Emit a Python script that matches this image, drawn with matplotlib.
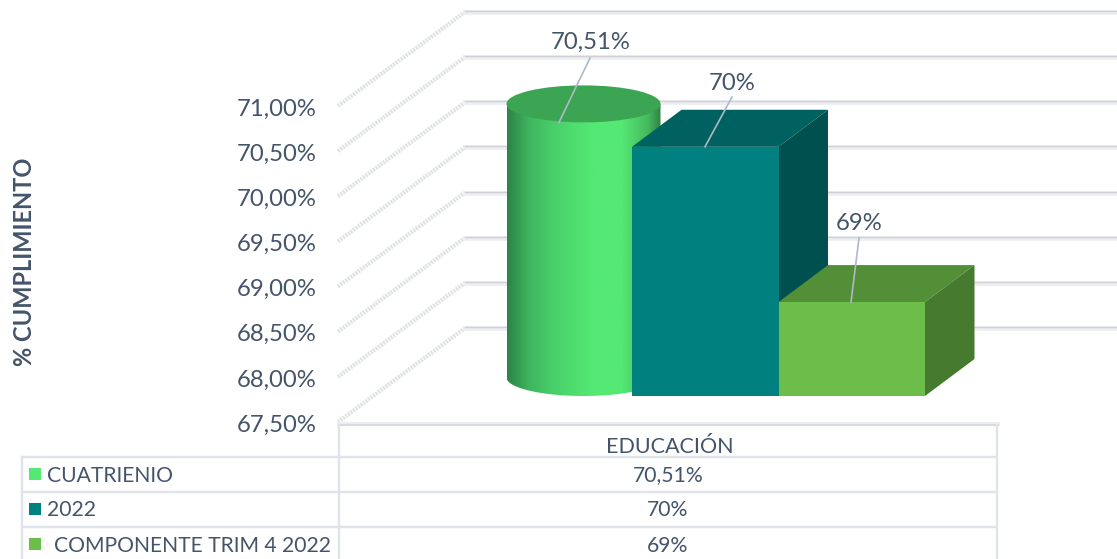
import numpy as np
import matplotlib
matplotlib.use('Agg')
import matplotlib.pyplot as plt
from matplotlib.colors import LinearSegmentedColormap
from matplotlib.patches import Ellipse, Polygon, Rectangle

# chart values
series = ['CUATRIENIO', '2022', 'COMPONENTE TRIM 4 2022']
category = 'EDUCACIÓN'
heights = [70.53, 70.26, 68.54]   # height of each bar
value_labels = ['70,51%', '70%', '69%']
y_ticks = [67.5, 68.0, 68.5, 69.0, 69.5, 70.0, 70.5, 71.0]
y_labels = ['67,50%', '68,00%', '68,50%', '69,00%', '69,50%', '70,00%', '70,50%', '71,00%']

# colours: front, top, side
colors = [('#54e874', '#3ca554', '#2e8a4a'),
          ('#00807f', '#006260', '#005050'),
          ('#6cbd4a', '#528f37', '#467a2e')]
text_color = '#44546a'
table_color = '#dfe3ea'

plt.rcParams['font.family'] = ['Lato', 'DejaVu Sans']

fig = plt.figure(figsize=(11.17, 5.59), dpi=100)
ax = fig.add_axes([0, 0, 1, 1])

# pixel layout of the fake 3d box
wall_x0, wall_x1, wall_dx, wall_dy = 338, 1117, 127, -94
y_base, px_per_unit = 422, 90.3
slot_x0, slot_w = 485.5, 146.5
bar_y0, bar_dx, bar_dy = 396, 49.5, -37

def wall_y(v):
    return y_base - (v - y_ticks[0]) * px_per_unit

def bar_y(v):
    return bar_y0 - (v - y_ticks[0]) * px_per_unit

# walls
for v, lab in zip(y_ticks, y_labels):
    y = wall_y(v)
    ax.plot([wall_x0, wall_x0 + wall_dx], [y, y + wall_dy], color='#dfe3e3', lw=3,
            ls=(0, (0.5, 0.25)), zorder=1, solid_capstyle='butt')
    ax.plot([wall_x0 + wall_dx, wall_x1], [y + wall_dy, y + wall_dy], color='#eceef2', lw=3.5, zorder=1)
    ax.plot([wall_x0 + wall_dx, wall_x1], [y + wall_dy - 1, y + wall_dy - 1], color='#cfd1d6', lw=1, zorder=1)
    ax.text(316.5, y + 3, lab, ha='right', va='center', fontsize=17.2, color=text_color)

ax.text(25, 262, '% CUMPLIMIENTO', rotation=90, ha='center', va='center',
        fontsize=17, fontweight='bold', color=text_color)

# cylinder
front, top, side = colors[0]
cx = slot_x0 + slot_w / 2 + bar_dx / 2
rx, ry = 77, -bar_dy / 2
cy_base = bar_y0 + bar_dy / 2
cy_top = bar_y(heights[0]) + bar_dy / 2
t = np.linspace(0, np.pi, 80)
outline = np.column_stack([cx + rx * np.cos(t), cy_base + ry * np.sin(t)])
outline = np.vstack([[cx + rx, cy_top], outline, [cx - rx, cy_top]])
clip = Polygon(outline, closed=True, transform=ax.transData)
cmap = LinearSegmentedColormap.from_list('cyl', [(0, '#2c8347'), (0.14, '#3fb45f'), (0.3, '#48cf69'),
                                                 (0.55, front), (0.75, front), (0.92, '#45b85d'), (1, '#2f8444')])
im = ax.imshow(np.linspace(0, 1, 256).reshape(1, -1), cmap=cmap, aspect='auto', zorder=2,
               extent=[cx - rx, cx + rx, cy_base + ry, cy_top], interpolation='bilinear')
im.set_clip_path(clip)
ax.add_patch(Ellipse((cx, cy_top), 2 * rx, 2 * ry, fc=top, ec='none', zorder=3))

# boxes
for i in [1, 2]:
    front, top, side = colors[i]
    x0 = slot_x0 + slot_w * i
    x1 = x0 + slot_w
    y1 = bar_y(heights[i])
    ax.add_patch(Polygon([(x0, y1), (x1, y1), (x1 + bar_dx, y1 + bar_dy), (x0 + bar_dx, y1 + bar_dy)],
                         fc=top, ec='none', zorder=3 + i))
    ax.add_patch(Polygon([(x1, y1), (x1 + bar_dx, y1 + bar_dy), (x1 + bar_dx, bar_y0 + bar_dy), (x1, bar_y0)],
                         fc=side, ec='none', zorder=3 + i))
    ax.add_patch(Rectangle((x0, y1), slot_w, bar_y0 - y1, fc=front, ec='none', zorder=3 + i))

# data labels with leader lines
label_xy = [(591, 42), (732, 84), (859, 223)]
leader_start = [(590, 58), (732, 97), (859, 238)]
leader_x_end = [559, 705, 851]
for i in range(3):
    ax.text(label_xy[i][0], label_xy[i][1], value_labels[i], ha='center', va='center',
            fontsize=17.2, color=text_color, zorder=8)
    ax.plot([leader_start[i][0], leader_x_end[i]], [leader_start[i][1], bar_y(heights[i])],
            color='#aeb8c8', lw=1.2, zorder=8)

# data table
lw = 1.7
ax.plot([339, 998], [424, 424], color='#eceef2', lw=3, zorder=1)
ax.plot([339, 998], [425, 425], color='#d3d6db', lw=1.2, zorder=1)
ax.plot([339, 339], [425, 559], color=table_color, lw=lw)
ax.plot([997, 997], [425, 559], color=table_color, lw=lw)
ax.plot([22, 22], [457, 559], color=table_color, lw=lw)
row_tops = [457, 492, 527]
text_x = [46.5, 46.5, 54.5]
for y in row_tops:
    ax.plot([22, 997], [y, y], color=table_color, lw=lw)
ax.text(670, 447, category, ha='center', va='center', fontsize=15.5, color=text_color)
for i, y in enumerate(row_tops):
    ax.add_patch(Rectangle((29, y + 11), 12, 12, fc=colors[i][0], ec='none'))
    ax.text(text_x[i], y + 18.5, series[i], ha='left', va='center', fontsize=15.2, color=text_color)
    ax.text(668, y + 18.5, value_labels[i], ha='center', va='center', fontsize=15.2, color=text_color)

ax.set_xlim(0, 1117)
ax.set_ylim(559, 0)
ax.axis('off')
fig.savefig('out.png', dpi=100, facecolor='white')
